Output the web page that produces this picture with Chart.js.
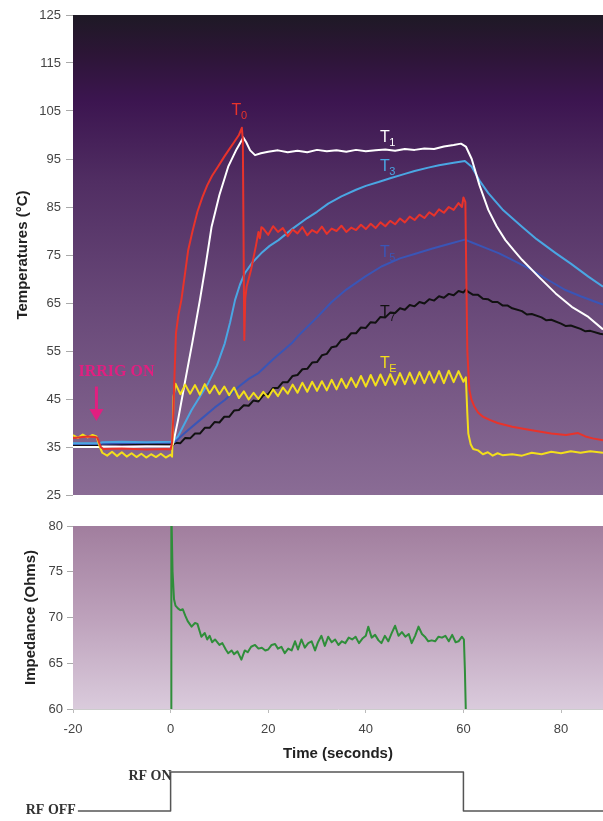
<!DOCTYPE html>
<html>
<head>
<meta charset="utf-8">
<script src="https://cdn.jsdelivr.net/npm/chart.js@4.4.1/dist/chart.umd.min.js"></script>
<style>
  html, body { margin: 0; padding: 0; background: #fff; }
  body { width: 603px; height: 821px; position: relative; overflow: hidden; }
  canvas { position: absolute; left: 0; }
  #tempChart { top: 0; }
  #impChart { top: 505px; }
  #rfChart { top: 760px; }
</style>
</head>
<body>
<canvas id="tempChart" width="603" height="510"></canvas>
<canvas id="impChart" width="603" height="265"></canvas>
<canvas id="rfChart" width="603" height="61"></canvas>
<script>
"use strict";

const SANS = "'Liberation Sans', Arial, sans-serif";
const SERIF = "'Liberation Serif', 'Times New Roman', serif";

// Shared time axis (seconds)
const timeMin = -20;
const timeMax = 88.6;
const timeTicks = [-20, 0, 20, 40, 60, 80];

// Temperature axis
const tempTicks = [25, 35, 45, 55, 65, 75, 85, 95, 105, 115, 125];
// Impedance axis
const impTicks = [60, 65, 70, 75, 80];

// T0 (electrode tip, red)
const t0Time = [-20, -17, -15.5, -15, -14.3, -13.8, -10, -5, -1, 0, 0.3, 0.5, 0.8, 1.1, 1.6, 2.2, 3, 3.6, 4.5, 5.5,
    6.5, 7.5, 8.5, 9.7, 11, 12, 13, 14, 14.6, 14.8, 15.1, 15.3, 15.6, 16, 16.5, 17, 17.5, 18, 18.3, 18.6,
    19, 20, 21, 22, 23, 24, 25, 26, 27, 28, 29, 30, 31, 32, 33, 34, 35, 36, 37, 38, 39, 40, 41, 42, 43, 44, 45,
    46, 47, 48, 49, 50, 51, 52, 53, 54, 55, 56, 57, 58, 59, 59.7, 60, 60.4, 60.6, 60.8, 61.2, 61.6, 62.2, 63,
    64, 65.5, 67, 70, 74, 78, 81, 83.5, 85, 86.5, 88.6];
const t0Temp = [36.9, 37.2, 37.1, 36.9, 35.0, 34.6, 34.7, 34.5, 34.6, 34.5, 36, 40, 50, 58.7, 62.5, 65.6, 71.5, 76, 80, 84,
    87, 89.5, 91.5, 93.4, 95.5, 97, 98.5, 100, 101.5, 99, 57.3, 66, 68.5, 70, 72, 74.5, 77, 79.8, 78.5, 80.8,
    80.5, 79.2, 81.0, 79.8, 80.6, 78.9, 80.3, 79.5, 80.8, 79.1, 80.2, 79.6, 80.9, 79.4, 80.5, 80.0, 81.1, 79.8, 80.7, 80.2, 81.3, 80.4, 81.5, 80.6, 81.8, 81.0, 82.1,
    81.4, 82.6, 81.8, 83.0, 82.3, 83.4, 82.7, 83.9, 83.2, 84.5, 83.8, 85.0, 84.4, 85.8, 85.0, 87.0, 86.0, 70, 55, 47, 45, 43.5, 42.2,
    41.3, 40.6, 40, 39.2, 38.5, 37.8, 37.5, 37.9, 37.2, 36.8, 36.4];

// T1 (white)
const t1Time = [-20, -14.5, -14, -10, -5, 0, 0.5, 1.5, 2.9, 4.5, 6, 7.2, 8.4, 10, 11.8, 13.5, 14.9, 15.5, 16.3, 17.3,
    18.5, 20, 22, 24, 26, 28, 30, 32, 34, 36, 38, 40, 42, 44, 46, 48, 50, 52, 54, 56, 58, 59.5, 60.5, 61.7,
    63.3, 65.1, 66.8, 68.6, 70.3, 72, 75.4, 78.9, 82.2, 85.6, 88.6];
const t1Temp = [35.0, 35.0, 35.1, 35.0, 35.1, 35.1, 35.6, 40.5, 48.3, 57, 65.6, 73, 80.9, 87.5, 93.4, 97, 99.5, 98.5, 96.8, 95.8,
    96.2, 96.5, 96.8, 96.4, 96.7, 96.4, 96.9, 96.6, 96.8, 96.5, 96.9, 96.6, 96.8, 97.0, 96.7, 97.1, 96.9, 97.2, 97.1, 97.6, 97.9, 98.2, 97.6, 95.0,
    89.5, 84.4, 81, 78.1, 76, 74, 70.5, 67, 64.2, 62.1, 59.5];

// T3 (light blue)
const t3Time = [-20, -14.5, -14, -10, -5, 0, 0.5, 1.5, 4.3, 7.7, 9.5, 11.1, 12.2, 13.2, 14.2, 15.2, 16.8, 18.6, 20.3, 22.1,
    25, 28, 30, 32.3, 35, 38, 40, 42.6, 45, 48, 50, 52.8, 55, 58, 60.3, 61.7, 63.3, 65.1, 68, 72, 75, 78.9, 82, 85.6, 88.6];
const t3Temp = [35.8, 35.8, 36.0, 36.1, 36.0, 36.1, 36.2, 37.2, 42.7, 48.3, 52, 56.6, 61, 65.6, 68.8, 71.2, 73.5, 75.4, 76.9, 78.1,
    80.5, 82.7, 84, 85.7, 87.2, 88.6, 89.4, 90.2, 91, 91.9, 92.5, 93.2, 93.7, 94.2, 94.6, 93.4, 90.5, 87.9, 84.5, 80.9, 78.3, 75.4, 73.2, 70.5, 68.4];

// T5 (dark blue)
const t5Time = [-20, -14.5, -14, -10, -5, 0, 0.9, 3, 6, 9, 11.1, 14, 16, 18, 21, 24.8, 26.2, 30, 33, 36, 40, 43.2, 47, 50,
    53.5, 57, 60.3, 62, 64, 67.2, 70, 74, 77, 80.9, 84, 87.7, 88.6];
const t5Temp = [35.6, 35.6, 35.7, 35.8, 35.9, 35.9, 36.1, 38, 40.6, 43.2, 44.8, 47.6, 49.2, 50.4, 53.3, 56.6, 58.2, 62, 65.2, 67.8, 70.6, 72.6, 74.3, 75.2,
    76.3, 77.3, 78.2, 77.5, 76.7, 75.4, 74, 71.9, 70, 67.7, 66.4, 65, 64.7];

// T7 (black)
const t7Time = [-20, -14.5, -14, -10, -5, 0, 0.5, 1, 2, 3, 4, 5, 6, 7, 8, 9, 10, 11, 12, 13, 14, 15, 16, 17, 18, 19, 20,
    21, 22, 23, 24, 25, 26, 27, 28, 29, 30, 31, 32, 33, 34, 35, 36, 37, 38, 39, 40, 41, 42, 43, 44, 45, 46, 47, 48, 49, 50,
    51, 52, 53, 54, 55, 56, 57, 58, 59, 60, 60.5, 61, 62, 63, 64, 65, 66, 67, 68, 69, 70, 72, 73, 74, 76, 77, 78, 80, 81,
    82, 84, 85, 86, 88, 88.6];
const t7Temp = [35.3, 35.4, 35.5, 35.7, 35.6, 35.5, 35.5, 35.9, 35.8, 36.9, 36.8, 37.8, 37.8, 39.0, 39.0, 40.2, 40.1, 41.3, 41.3, 42.6, 42.7, 43.7, 43.6, 44.7, 44.5, 45.8, 46.0,
    47.3, 47.3, 48.5, 48.5, 49.8, 50.0, 51.2, 51.3, 52.6, 52.7, 54.1, 54.4, 55.8, 56.0, 57.3, 57.5, 58.7, 58.7, 59.9, 59.8, 61.0, 60.9, 62.1, 62.0, 63.0, 62.9, 63.9, 63.6, 64.6, 64.3,
    65.2, 64.9, 65.8, 65.5, 66.4, 66.1, 66.9, 66.6, 67.5, 67.2, 67.8, 67.3, 66.7, 66.7, 65.9, 65.8, 65.2, 65.2, 64.5, 64.5, 63.9, 63.3, 62.6, 62.7, 62.0, 61.4, 61.5, 60.7, 60.2,
    60.3, 59.6, 59.1, 59.2, 58.6, 58.5];

// TE (yellow)
const tETime = [-20, -19, -18, -17, -16, -15.2, -14.5, -14, -13, -12, -11, -10, -9, -8, -7, -6, -5, -4, -3, -2, -1, 0, 0.3, 0.6,
    1, 2, 3, 4, 5, 6, 7, 8, 9, 10, 11, 12, 13, 14, 15, 16, 17, 18, 19, 20, 21, 22, 23, 24, 25, 26, 27, 28, 29, 30,
    31, 32, 33, 34, 35, 36, 37, 38, 39, 40, 41, 42, 43, 44, 45, 46, 47, 48, 49, 50, 51, 52, 53, 54, 55, 56, 57, 58, 59, 60,
    60.5, 60.8, 61, 61.5, 62, 63, 64, 65, 66, 67, 68, 70, 72, 74, 76, 78, 80, 82, 84, 86, 88.6];
const tETemp = [37.5, 36.9, 37.6, 37.0, 37.5, 37.2, 35.0, 33.8, 33.2, 34.0, 33.1, 33.9, 33.0, 33.7, 32.9, 33.6, 32.8, 33.5, 32.9, 33.6, 32.8, 33.4, 33.0, 45.5,
    48.2, 46.0, 48.0, 46.1, 47.9, 45.9, 48.1, 46.2, 47.8, 46.0, 47.6, 45.8, 47.4, 45.2, 46.6, 44.9, 46.3, 45.0, 46.5, 45.3, 47.0, 45.6, 47.4, 46.1, 48.0, 46.3, 48.4, 46.5, 48.6, 46.7,
    48.7, 46.8, 49.0, 47.0, 49.2, 47.3, 49.4, 47.5, 49.8, 47.6, 50.0, 47.8, 50.1, 47.9, 50.2, 48.0, 50.4, 48.1, 50.5, 48.2, 50.6, 48.3, 50.7, 48.4, 50.8, 48.3, 50.9, 48.5, 50.8, 48.6,
    49.5, 42, 37.8, 35.5, 34.6, 34.3, 33.5, 33.9, 33.2, 33.7, 33.3, 33.5, 33.2, 33.8, 33.5, 34.0, 33.7, 34.1, 33.8, 34.1, 33.8];

// Impedance (green)
const impTime = [0.1, 0.15, 0.4, 0.7, 1, 1.5, 2, 2.5, 3, 3.5, 4.3, 5, 5.5, 6.3, 7, 7.5, 8, 8.5, 9.1, 10, 10.6, 11.3, 11.8, 12.5,
    13, 13.7, 14.5, 15.2, 15.8, 16.5, 17.3, 18, 18.7, 19.4, 20, 20.7, 21.4, 22, 22.7, 23.4, 24.1, 24.8, 25.5, 26.1, 26.8,
    27.5, 28.2, 28.9, 29.6, 30.2, 30.9, 31.6, 32.3, 33, 33.7, 34.4, 35.1, 35.8, 36.5, 37.2, 37.9, 38.6, 39.3, 40, 40.5,
    41.2, 41.9, 42.6, 43.2, 43.9, 44.6, 45.3, 46, 46.7, 47.4, 48.1, 48.8, 49.4, 50.1, 50.8, 51.5, 52.1, 52.8, 53.5, 54.2,
    54.9, 55.6, 56.3, 57, 57.7, 58.4, 59, 59.7, 60.1, 60.3, 60.5];
const impOhms = [59.5, 82, 75, 72, 71.3, 71.0, 70.8, 70.9, 70.2, 69.6, 69.0, 69.4, 69.3, 67.9, 68.3, 67.6, 68.0, 67.3, 67.6, 67.0, 67.2, 66.5, 66.1, 66.4,
    66.0, 66.3, 65.4, 66.4, 66.2, 66.8, 67.0, 66.6, 66.7, 66.4, 66.5, 67.0, 67.1, 66.6, 66.8, 66.1, 66.6, 66.4, 67.4, 66.5, 67.6,
    66.7, 67.2, 67.4, 66.4, 67.3, 68.0, 66.9, 67.9, 67.3, 67.6, 67.0, 67.4, 67.2, 67.8, 67.6, 67.9, 67.2, 67.7, 68.0, 69.0,
    67.8, 68.1, 67.5, 67.2, 68.0, 67.4, 68.3, 69.1, 68.0, 68.4, 67.9, 68.2, 67.2, 68.0, 69.0, 68.2, 67.9, 67.4, 67.5, 67.4,
    67.9, 67.8, 68.0, 67.4, 68.1, 67.3, 67.4, 67.9, 67.6, 64.3, 59.5];

// RF generator state (0 = off, 1 = on)
const rfTime = [-19, 0, 0, 60, 60, timeMax];
const rfState = [0, 0, 1, 1, 0, 0];

// Curve labels
const tagSubs = ['0', '1', '3', '5', '7', 'E'];
const tagTime = [12.5, 42.9, 42.9, 42.9, 42.9, 42.9];
const tagTemp = [104.2, 98.6, 92.4, 74.6, 62.1, 51.5];
const tagColors = ['#e8332b', '#ffffff', '#4aa6e3', '#3a55b6', '#111111', '#f2de1c'];

const pts = (xs, ys) => xs.map((x, i) => ({ x: x, y: ys[i] }));

// Gradient fill behind the plot area
const plotBg = {
    id: 'plotBg',
    beforeDraw(chart, args, opts) {
        const { ctx, chartArea: a } = chart;
        const g = ctx.createLinearGradient(0, a.top, 0, a.bottom);
        opts.stops.forEach(s => g.addColorStop(s[0], s[1]));
        ctx.save();
        ctx.fillStyle = g;
        ctx.fillRect(a.left, a.top, a.right - a.left, a.bottom - a.top);
        ctx.restore();
    }
};

// T labels and the irrigation marker
const tempNotes = {
    id: 'tempNotes',
    afterDatasetsDraw(chart) {
        const { ctx, scales: { x, y } } = chart;
        ctx.save();
        ctx.textAlign = 'left';
        ctx.textBaseline = 'alphabetic';
        tagSubs.forEach((sub, i) => {
            const px = x.getPixelForValue(tagTime[i]);
            const py = y.getPixelForValue(tagTemp[i]);
            ctx.fillStyle = tagColors[i];
            ctx.font = '16px ' + SANS;
            ctx.fillText('T', px, py);
            const w = ctx.measureText('T').width;
            ctx.font = '11px ' + SANS;
            ctx.fillText(sub, px + w - 0.5, py + 4);
        });

        // IRRIG ON
        ctx.fillStyle = '#e11f80';
        ctx.strokeStyle = '#e11f80';
        ctx.font = 'bold 16px ' + SERIF;
        ctx.textAlign = 'center';
        ctx.textBaseline = 'middle';
        ctx.fillText('IRRIG ON', x.getPixelForValue(-11.1), y.getPixelForValue(50.6));
        const ax = x.getPixelForValue(-15.2);
        const ay0 = y.getPixelForValue(47.6);
        const ay1 = y.getPixelForValue(40.4);
        ctx.lineWidth = 3;
        ctx.beginPath();
        ctx.moveTo(ax, ay0);
        ctx.lineTo(ax, ay1 - 10);
        ctx.stroke();
        ctx.beginPath();
        ctx.moveTo(ax - 7, ay1 - 12);
        ctx.lineTo(ax + 7, ay1 - 12);
        ctx.lineTo(ax, ay1);
        ctx.closePath();
        ctx.fill();
        ctx.restore();
    }
};

const rfNotes = {
    id: 'rfNotes',
    afterDatasetsDraw(chart) {
        const { ctx, scales: { x, y } } = chart;
        ctx.save();
        ctx.fillStyle = '#333';
        ctx.font = 'bold 14px ' + SERIF;
        ctx.textAlign = 'right';
        ctx.textBaseline = 'middle';
        ctx.fillText('RF ON', x.getPixelForValue(0) + 1, y.getPixelForValue(1) + 4);
        ctx.fillText('RF OFF', x.getPixelForValue(-19) - 2, y.getPixelForValue(0) - 1);
        ctx.restore();
    }
};

Chart.defaults.font.family = SANS;
Chart.defaults.animation = false;

const lineStyle = (color) => ({
    borderColor: color,
    borderWidth: 2,
    pointRadius: 0,
    tension: 0,
    borderJoinStyle: 'round'
});

// Use exactly the listed tick values
const fixedTicks = (list) => (scale) => {
    scale.ticks = list.map(v => ({ value: v }));
};

// Temperature chart
new Chart(document.getElementById('tempChart'), {
    type: 'line',
    data: {
        datasets: [
            { label: 'T0', data: pts(t0Time, t0Temp), ...lineStyle('#e8332b') },
            { label: 'TE', data: pts(tETime, tETemp), ...lineStyle('#f2de1c') },
            { label: 'T1', data: pts(t1Time, t1Temp), ...lineStyle('#ffffff') },
            { label: 'T3', data: pts(t3Time, t3Temp), ...lineStyle('#4aa6e3') },
            { label: 'T5', data: pts(t5Time, t5Temp), ...lineStyle('#3a55b6') },
            { label: 'T7', data: pts(t7Time, t7Temp), ...lineStyle('#111111') }
        ]
    },
    options: {
        responsive: false,
        layout: { padding: { top: 15, bottom: 15, left: 0, right: 0 } },
        plugins: {
            legend: { display: false },
            tooltip: { enabled: false },
            plotBg: {
                stops: [[0, '#1e1925'], [0.08, '#2c1536'], [0.18, '#3c1550'], [0.35, '#512e63'],
                        [0.6, '#684878'], [1, '#8a6c95']]
            }
        },
        scales: {
            x: { type: 'linear', min: timeMin, max: timeMax, display: false },
            y: {
                min: 25, max: 125,
                afterBuildTicks: fixedTicks(tempTicks),
                afterFit: (s) => { s.width = 73; },
                ticks: { color: '#444', padding: 5, font: { size: 13 } },
                grid: { drawOnChartArea: false, tickLength: 7, color: '#aaa' },
                border: { display: false },
                title: {
                    display: true, text: 'Temperatures (°C)', color: '#222',
                    font: { size: 15, weight: 'bold' }, padding: { top: 14, bottom: 0 }
                }
            }
        }
    },
    plugins: [plotBg, tempNotes]
});

// Impedance chart
new Chart(document.getElementById('impChart'), {
    type: 'line',
    data: {
        datasets: [
            { label: 'Impedance', data: pts(impTime, impOhms), ...lineStyle('#2f8e3a') }
        ]
    },
    options: {
        responsive: false,
        layout: { padding: { top: 21, bottom: 0, left: 0, right: 0 } },
        plugins: {
            legend: { display: false },
            tooltip: { enabled: false },
            plotBg: { stops: [[0, '#a17e9e'], [0.5, '#bda1bb'], [1, '#dacbdc']] }
        },
        scales: {
            x: {
                type: 'linear', min: timeMin, max: timeMax,
                afterBuildTicks: fixedTicks(timeTicks),
                afterFit: (s) => { s.height = 61; },
                ticks: { color: '#444', padding: 9, maxRotation: 0, font: { size: 13 } },
                grid: { drawOnChartArea: false, tickLength: 4, color: '#bbb' },
                border: { display: true, color: '#ccc' },
                title: {
                    display: true, text: 'Time (seconds)', color: '#222',
                    font: { size: 15, weight: 'bold' }, padding: { top: 0, bottom: 7 }
                }
            },
            y: {
                min: 60, max: 80,
                afterBuildTicks: fixedTicks(impTicks),
                afterFit: (s) => { s.width = 73; },
                ticks: { color: '#444', padding: 4, font: { size: 13 } },
                grid: { drawOnChartArea: false, tickLength: 6, color: '#aaa' },
                border: { display: false },
                title: {
                    display: true, text: 'Impedance (Ohms)', color: '#222',
                    font: { size: 15, weight: 'bold' }, padding: { top: 22, bottom: 0 }
                }
            }
        }
    },
    plugins: [plotBg]
});

// RF on/off trace
new Chart(document.getElementById('rfChart'), {
    type: 'line',
    data: {
        datasets: [
            { label: 'RF', data: pts(rfTime, rfState), ...lineStyle('#555555'), borderWidth: 1.5, clip: false }
        ]
    },
    options: {
        responsive: false,
        layout: { padding: { top: 12, bottom: 10, left: 73, right: 0 } },
        plugins: { legend: { display: false }, tooltip: { enabled: false } },
        scales: {
            x: { type: 'linear', min: timeMin, max: timeMax, display: false },
            y: { min: 0, max: 1, display: false }
        }
    },
    plugins: [rfNotes]
});
</script>
</body>
</html>
